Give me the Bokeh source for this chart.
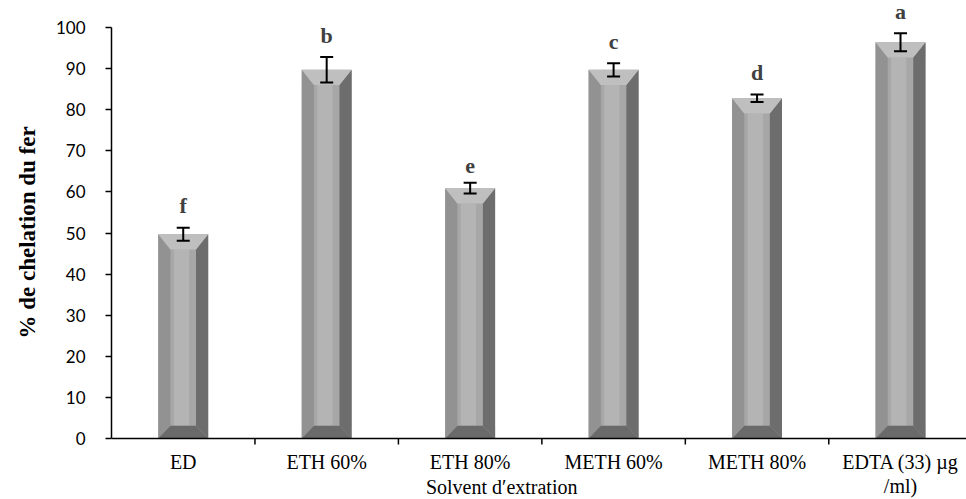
from bokeh.plotting import figure
from bokeh.models import Range1d, FixedTicker, Whisker, ColumnDataSource, TeeHead, Span, Title
from bokeh.core.properties import value
from bokeh.embed import file_html
from bokeh.resources import INLINE

categories = ["ED", "ETH 60%", "ETH 80%", "METH 60%", "METH 80%", "EDTA (33) µg\n/ml)"]
values = [49.7, 89.7, 60.9, 89.7, 82.8, 96.4]
errors = [1.6, 3.1, 1.3, 1.6, 0.9, 2.2]
letters = ["f", "b", "e", "c", "d", "a"]
y_ticks = [0, 10, 20, 30, 40, 50, 60, 70, 80, 90, 100]
x_title = "Solvent d\u2032extration"
y_title = "% de chelation du fer"

n = len(categories)
centers = [i + 0.5 for i in range(n)]
bounds_x = [i for i in range(1, n)]
hw = 0.174          # half bar width (x units)
dx = 0.085          # bevel width (x units)
dyt = 3.7           # top bevel height (y units)
dyb = 3.1           # bottom bevel height (y units)
PX_Y = 4.11         # pixels per y unit

p = figure(width=966, height=499, output_backend="svg", toolbar_location=None,
           x_range=Range1d(0, 5.96), y_range=Range1d(-14.84, 106.57),
           min_border_left=111, min_border_right=0, min_border_top=0, min_border_bottom=0)
p.outline_line_color = None
p.grid.grid_line_color = None
p.background_fill_color = "white"
p.border_fill_color = "white"
p.xaxis.visible = False

# bars with bevel faces
lx = [[c - hw, c - hw, c - hw + dx, c - hw + dx] for c in centers]
ly = [[0, v, v - dyt, dyb] for v in values]
rx = [[c + hw, c + hw, c + hw - dx, c + hw - dx] for c in centers]
ry = [[0, v, v - dyt, dyb] for v in values]
tx = [[c - hw, c + hw, c + hw - dx, c - hw + dx] for c in centers]
ty = [[v, v, v - dyt, v - dyt] for v in values]
bx = [[c - hw, c + hw, c + hw - dx, c - hw + dx] for c in centers]
by = [[0, 0, dyb, dyb] for v in values]

p.vbar(x=centers, top=values, width=2 * hw, fill_color="#a7a7a7", line_color=None)
p.vbar(x=[c - 0.012 for c in centers], top=[v - dyt for v in values], bottom=dyb,
       width=2 * (hw - dx) * 0.6, fill_color="#b4b4b4", line_color=None)
p.patches(lx, ly, fill_color="#929292", line_color=None)
p.patches(rx, ry, fill_color="#6d6d6d", line_color=None)
p.patches(tx, ty, fill_color="#bfbfbf", line_color=None)
p.patches(bx, by, fill_color="#6a6a6a", line_color=None)

# x axis (drawn by hand so the frame can hold the labels)
p.add_layout(Span(location=0, dimension="width", line_color="black", line_width=1.5))
p.segment(x0=bounds_x, x1=bounds_x, y0=[0] * len(bounds_x), y1=[-6 / PX_Y] * len(bounds_x),
          line_color="black", line_width=1.5)
p.text(x=centers, y=[-12 / PX_Y] * n, text=categories, text_font=value("Liberation Serif"),
       text_font_size="20px", text_color="black", text_align="center", text_baseline="top",
       text_line_height=1.1)
p.text(x=[2.72], y=[-48 / PX_Y], text=[x_title], text_font=value("Liberation Serif"),
       text_font_size="20px", text_color="black", text_align="center", text_baseline="middle")

# error bars
src = ColumnDataSource(dict(x=centers, lo=[v - e for v, e in zip(values, errors)],
                            hi=[v + e for v, e in zip(values, errors)]))
w = Whisker(base="x", lower="lo", upper="hi", source=src, line_color="black", line_width=2,
            level="overlay",
            upper_head=TeeHead(size=13, line_width=2, line_color="black"),
            lower_head=TeeHead(size=13, line_width=2, line_color="black"))
p.add_layout(w)

# letters
p.text(x=centers, y=[v + e + 2.3 for v, e in zip(values, errors)], text=letters,
       text_font=value("Liberation Serif"), text_font_style="bold", text_font_size="22px",
       text_color="#404040", text_align="center", text_baseline="bottom")

# y axis
p.yaxis.bounds = (0, 100)
p.yaxis.ticker = FixedTicker(ticks=y_ticks)
p.yaxis.minor_tick_line_color = None
p.yaxis.major_tick_in = 0
p.yaxis.major_tick_out = 6
p.yaxis.axis_line_width = 1.5
p.yaxis.major_label_text_font = "Lato"
p.yaxis.major_label_text_font_size = "17px"
p.yaxis.major_label_text_color = "black"
p.yaxis.major_label_standoff = 20
p.yaxis.major_tick_line_width = 1.5

p.add_layout(Title(text=y_title, align="left", offset=161, standoff=25,
                   text_font="Liberation Serif", text_font_style="bold",
                   text_font_size="23px", text_color="black"), "left")

open("out.html", "w").write(file_html(p, INLINE))
